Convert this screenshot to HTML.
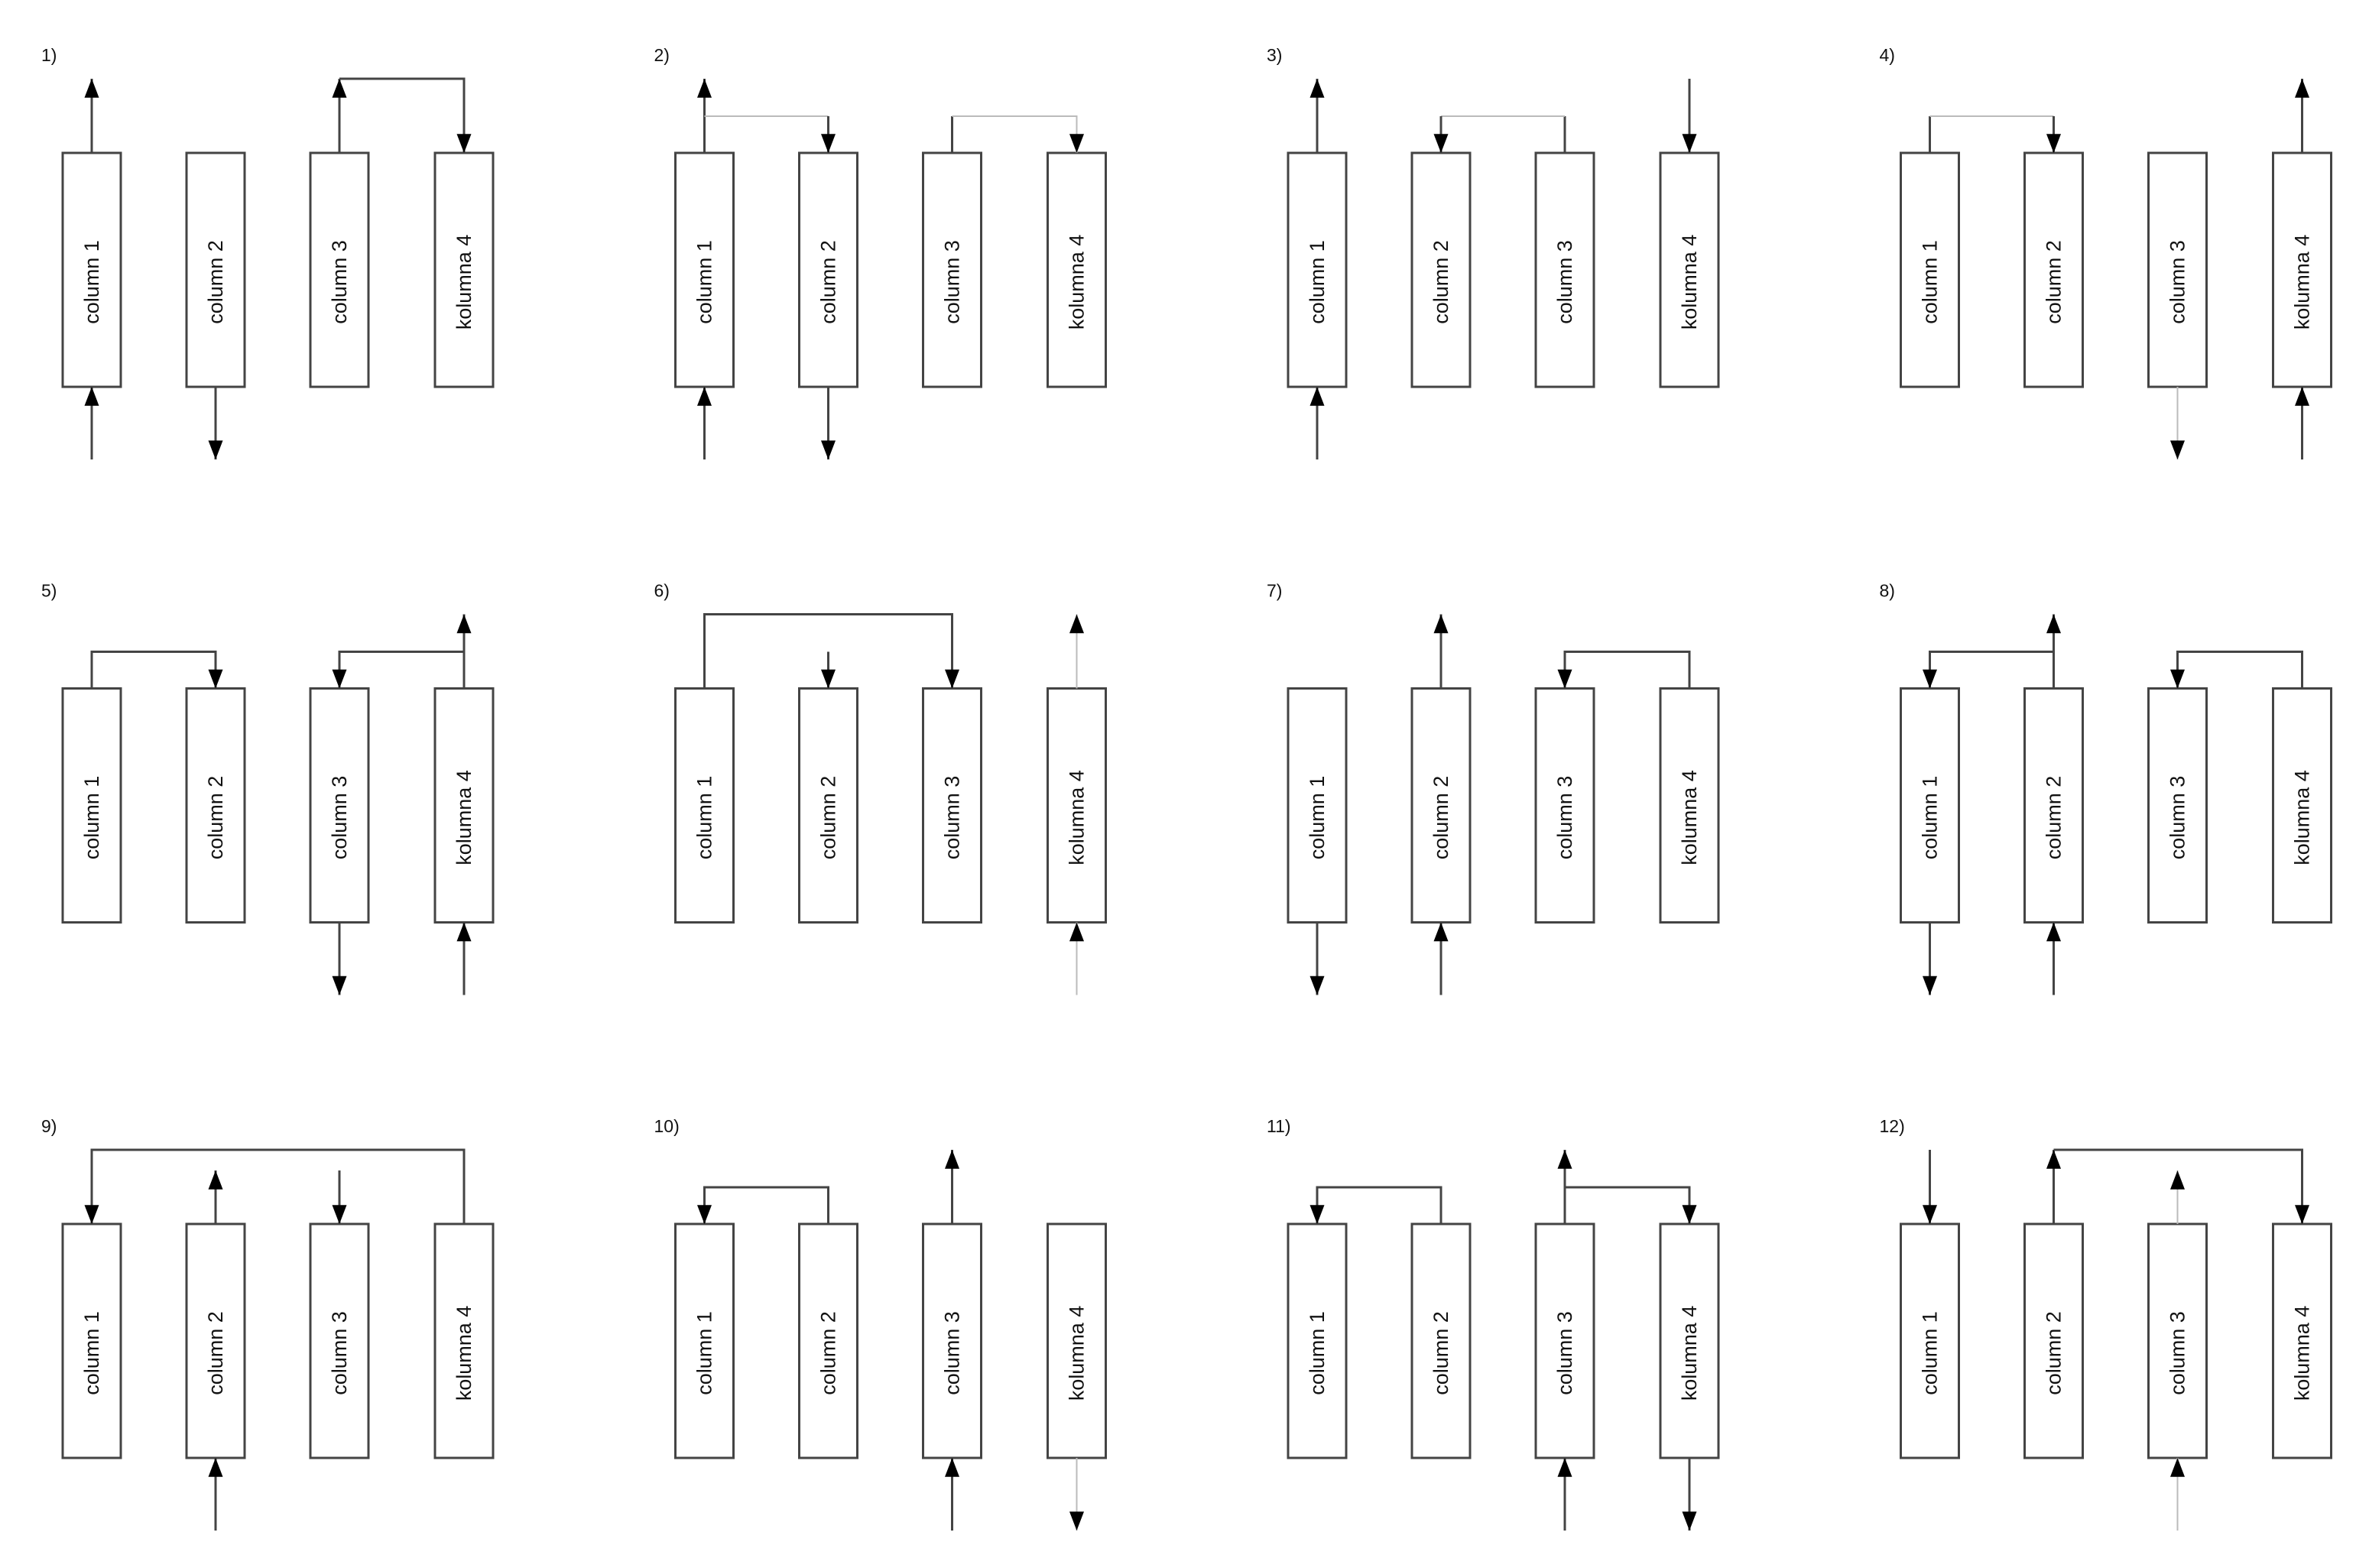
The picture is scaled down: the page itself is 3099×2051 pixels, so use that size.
<!DOCTYPE html>
<html><head><meta charset="utf-8"><style>
html,body{margin:0;padding:0;background:#fff}
svg{display:block}
.b{fill:#fff;stroke:#444;stroke-width:3}
.l{stroke:#444;stroke-width:3;fill:none}
.f{stroke:#bbb;stroke-width:2;fill:none}
text{font-family:"Liberation Sans",Arial,sans-serif;fill:#111}
.t{font-size:27px}
.n{font-size:23px}
</style></head><body>
<svg width="3099" height="2051" viewBox="0 0 3099 2051" xmlns="http://www.w3.org/2000/svg">
<defs>
<marker id="a" markerUnits="userSpaceOnUse" markerWidth="25" markerHeight="19" refX="26" refY="10" orient="auto" viewBox="0 0 26 20"><path d="M0,0 L26,10 L0,20 z" fill="#000"/></marker>
<g id="boxes">
<rect class="b" x="82" y="200" width="76" height="306"/>
<rect class="b" x="244" y="200" width="76" height="306"/>
<rect class="b" x="406" y="200" width="76" height="306"/>
<rect class="b" x="569" y="200" width="76" height="306"/>
<text class="t" x="120" y="369" transform="rotate(-90 120 369)" text-anchor="middle" dominant-baseline="central">column 1</text>
<text class="t" x="282" y="369" transform="rotate(-90 282 369)" text-anchor="middle" dominant-baseline="central">column 2</text>
<text class="t" x="444" y="369" transform="rotate(-90 444 369)" text-anchor="middle" dominant-baseline="central">column 3</text>
<text class="t" x="607" y="369" transform="rotate(-90 607 369)" text-anchor="middle" dominant-baseline="central">kolumna 4</text>
</g>
</defs>

<g transform="translate(0,0)">
<use href="#boxes"/><text class="n" x="54" y="80">1)</text>
<path class="l" d="M120,200 V103" marker-end="url(#a)"/>
<path class="l" d="M120,601 V506" marker-end="url(#a)"/>
<path class="l" d="M282,506 V601" marker-end="url(#a)"/>
<path class="l" d="M444,200 V103" marker-end="url(#a)"/>
<path class="l" d="M444,103 H607 V200" marker-end="url(#a)"/>
</g>
<g transform="translate(801.5,0)">
<use href="#boxes"/><text class="n" x="54" y="80">2)</text>
<path class="l" d="M120,200 V103" marker-end="url(#a)"/>
<path class="l" d="M120,601 V506" marker-end="url(#a)"/>
<path class="f" d="M120,152 H282"/><path class="l" d="M282,152 V200" marker-end="url(#a)"/>
<path class="l" d="M282,506 V601" marker-end="url(#a)"/>
<path class="l" d="M444,200 V152"/><path class="f" d="M444,152 H607 V200" marker-end="url(#a)"/>
</g>
<g transform="translate(1603,0)">
<use href="#boxes"/><text class="n" x="54" y="80">3)</text>
<path class="l" d="M120,200 V103" marker-end="url(#a)"/>
<path class="l" d="M120,601 V506" marker-end="url(#a)"/>
<path class="l" d="M444,200 V152"/><path class="f" d="M444,152 H282"/><path class="l" d="M282,152 V200" marker-end="url(#a)"/>
<path class="l" d="M607,103 V200" marker-end="url(#a)"/>
</g>
<g transform="translate(2404.5,0)">
<use href="#boxes"/><text class="n" x="54" y="80">4)</text>
<path class="l" d="M120,200 V152"/><path class="f" d="M120,152 H282"/><path class="l" d="M282,152 V200" marker-end="url(#a)"/>
<path class="f" d="M444,506 V601" marker-end="url(#a)"/>
<path class="l" d="M607,200 V103" marker-end="url(#a)"/>
<path class="l" d="M607,601 V506" marker-end="url(#a)"/>
</g>

<g transform="translate(0,700.5)">
<use href="#boxes"/><text class="n" x="54" y="80">5)</text>
<path class="l" d="M120,200 V152 H282 V200" marker-end="url(#a)"/>
<path class="l" d="M607,200 V103" marker-end="url(#a)"/>
<path class="l" d="M607,152 H444 V200" marker-end="url(#a)"/>
<path class="l" d="M444,506 V601" marker-end="url(#a)"/>
<path class="l" d="M607,601 V506" marker-end="url(#a)"/>
</g>
<g transform="translate(801.5,700.5)">
<use href="#boxes"/><text class="n" x="54" y="80">6)</text>
<path class="l" d="M120,200 V103 H444 V200" marker-end="url(#a)"/>
<path class="l" d="M282,152 V200" marker-end="url(#a)"/>
<path class="f" d="M607,200 V103" marker-end="url(#a)"/>
<path class="f" d="M607,601 V506" marker-end="url(#a)"/>
</g>
<g transform="translate(1603,700.5)">
<use href="#boxes"/><text class="n" x="54" y="80">7)</text>
<path class="l" d="M282,200 V103" marker-end="url(#a)"/>
<path class="l" d="M607,200 V152 H444 V200" marker-end="url(#a)"/>
<path class="l" d="M120,506 V601" marker-end="url(#a)"/>
<path class="l" d="M282,601 V506" marker-end="url(#a)"/>
</g>
<g transform="translate(2404.5,700.5)">
<use href="#boxes"/><text class="n" x="54" y="80">8)</text>
<path class="l" d="M282,200 V103" marker-end="url(#a)"/>
<path class="l" d="M282,152 H120 V200" marker-end="url(#a)"/>
<path class="l" d="M607,200 V152 H444 V200" marker-end="url(#a)"/>
<path class="l" d="M120,506 V601" marker-end="url(#a)"/>
<path class="l" d="M282,601 V506" marker-end="url(#a)"/>
</g>

<g transform="translate(0,1401)">
<use href="#boxes"/><text class="n" x="54" y="80">9)</text>
<path class="l" d="M607,200 V103 H120 V200" marker-end="url(#a)"/>
<path class="l" d="M282,200 V130" marker-end="url(#a)"/>
<path class="l" d="M444,130 V200" marker-end="url(#a)"/>
<path class="l" d="M282,601 V506" marker-end="url(#a)"/>
</g>
<g transform="translate(801.5,1401)">
<use href="#boxes"/><text class="n" x="54" y="80">10)</text>
<path class="l" d="M282,200 V152 H120 V200" marker-end="url(#a)"/>
<path class="l" d="M444,200 V103" marker-end="url(#a)"/>
<path class="l" d="M444,601 V506" marker-end="url(#a)"/>
<path class="f" d="M607,506 V601" marker-end="url(#a)"/>
</g>
<g transform="translate(1603,1401)">
<use href="#boxes"/><text class="n" x="54" y="80">11)</text>
<path class="l" d="M282,200 V152 H120 V200" marker-end="url(#a)"/>
<path class="l" d="M444,200 V103" marker-end="url(#a)"/>
<path class="l" d="M444,152 H607 V200" marker-end="url(#a)"/>
<path class="l" d="M444,601 V506" marker-end="url(#a)"/>
<path class="l" d="M607,506 V601" marker-end="url(#a)"/>
</g>
<g transform="translate(2404.5,1401)">
<use href="#boxes"/><text class="n" x="54" y="80">12)</text>
<path class="l" d="M120,103 V200" marker-end="url(#a)"/>
<path class="l" d="M282,200 V103" marker-end="url(#a)"/>
<path class="l" d="M282,103 H607 V200" marker-end="url(#a)"/>
<path class="f" d="M444,200 V130" marker-end="url(#a)"/>
<path class="f" d="M444,601 V506" marker-end="url(#a)"/>
</g>
</svg>
</body></html>
